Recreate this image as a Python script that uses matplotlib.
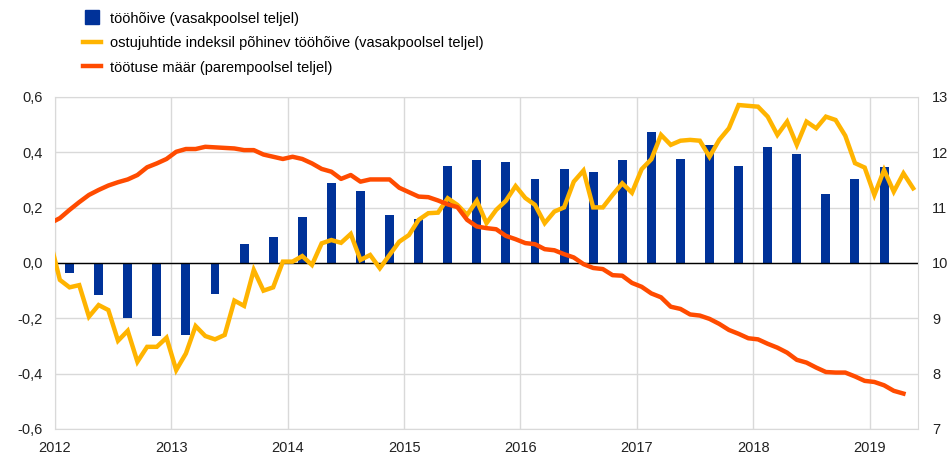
import numpy as np
import matplotlib.pyplot as plt
from matplotlib.lines import Line2D

plt.rcParams['font.family'] = ['Liberation Sans', 'DejaVu Sans']

BLUE = '#003299'
YELLOW = '#FFB400'
RED = '#FF4B00'
GRID = '#d9d9d9'

# quarterly employment growth (left axis), Q1 2012 .. Q1 2019
emp_quarters = ['2012Q1', '2012Q2', '2012Q3', '2012Q4', '2013Q1', '2013Q2', '2013Q3', '2013Q4',
                '2014Q1', '2014Q2', '2014Q3', '2014Q4', '2015Q1', '2015Q2', '2015Q3', '2015Q4',
                '2016Q1', '2016Q2', '2016Q3', '2016Q4', '2017Q1', '2017Q2', '2017Q3', '2017Q4',
                '2018Q1', '2018Q2', '2018Q3', '2018Q4', '2019Q1']
emp_values = [-0.035, -0.117, -0.198, -0.263, -0.26, -0.112, 0.069, 0.094,
              0.166, 0.288, 0.26, 0.174, 0.159, 0.35, 0.372, 0.364,
              0.304, 0.339, 0.328, 0.372, 0.473, 0.376, 0.426, 0.351,
              0.421, 0.393, 0.248, 0.303, 0.346]

# PMI-based employment (left axis), monthly from Dec 2011 to May 2019
pmi_start = '2011-12'
pmi_values = [0.08,
              -0.061, -0.088, -0.080, -0.194, -0.152, -0.170, -0.281, -0.245, -0.357, -0.303, -0.303, -0.270,
              -0.387, -0.327, -0.228, -0.264, -0.276, -0.260, -0.136, -0.155, -0.025, -0.100, -0.088, 0.005,
              0.005, 0.025, -0.007, 0.071, 0.083, 0.073, 0.105, 0.011, 0.029, -0.019, 0.029, 0.077,
              0.101, 0.156, 0.180, 0.182, 0.234, 0.210, 0.174, 0.225, 0.144, 0.192, 0.225, 0.278,
              0.235, 0.210, 0.144, 0.186, 0.201, 0.294, 0.334, 0.201, 0.201, 0.246, 0.288, 0.254,
              0.339, 0.375, 0.463, 0.427, 0.442, 0.445, 0.442, 0.384, 0.445, 0.487, 0.571, 0.568,
              0.565, 0.529, 0.463, 0.511, 0.427, 0.511, 0.487, 0.529, 0.517, 0.460, 0.361, 0.345,
              0.246, 0.336, 0.258, 0.324, 0.270]

# unemployment rate (right axis), monthly from Dec 2011 to Apr 2019
unemp_start = '2011-12'
unemp_values = [10.72,
                10.81, 10.96, 11.10, 11.23, 11.32, 11.40, 11.46, 11.51, 11.59, 11.73, 11.80, 11.88,
                12.01, 12.06, 12.06, 12.10, 12.09, 12.08, 12.07, 12.04, 12.04, 11.96, 11.92, 11.88,
                11.92, 11.88, 11.80, 11.70, 11.65, 11.52, 11.59, 11.47, 11.51, 11.51, 11.51, 11.36,
                11.28, 11.20, 11.19, 11.13, 11.06, 11.01, 10.78, 10.66, 10.63, 10.61, 10.49, 10.43,
                10.36, 10.34, 10.25, 10.23, 10.16, 10.10, 9.98, 9.91, 9.89, 9.78, 9.77, 9.64,
                9.57, 9.45, 9.38, 9.21, 9.17, 9.07, 9.05, 8.99, 8.90, 8.79, 8.72, 8.64,
                8.62, 8.54, 8.47, 8.38, 8.25, 8.20, 8.11, 8.03, 8.02, 8.02, 7.95, 7.87,
                7.85, 7.79, 7.69, 7.64]

years = list(range(2012, 2020))

legend_labels = ['tööhõive (vasakpoolsel teljel)',
                 'ostujuhtide indeksil põhinev tööhõive (vasakpoolsel teljel)',
                 'töötuse määr (parempoolsel teljel)']


def month_pos(start, n):
    y, m = map(int, start.split('-'))
    first = y + (m - 1) / 12
    return first + (np.arange(n) + 0.5) / 12


def quarter_pos(labels):
    return np.array([int(q[:4]) + (3 * (int(q[5]) - 1) + 1.5) / 12 for q in labels])


fig = plt.figure(figsize=(9.53, 4.55), dpi=100)
ax = fig.add_axes([55 / 953, 1 - 429 / 455, 863 / 953, 332 / 455])

ax.bar(quarter_pos(emp_quarters), emp_values, width=0.077, color=BLUE, zorder=2)
ax.plot(month_pos(pmi_start, len(pmi_values)), pmi_values, color=YELLOW, lw=3.2,
        solid_joinstyle='miter', zorder=3)
ax.axhline(0, color='black', lw=1, zorder=2.5)

ax.set_xlim(2012, 2019 + 5 / 12)
ax.set_ylim(-0.6, 0.6)
yt = np.arange(-0.6, 0.61, 0.2)
ax.set_yticks(yt)
ax.set_yticklabels([f'{v:.1f}'.replace('.', ',').replace('-0,0', '0,0') for v in yt])
ax.set_xticks(years)
ax.set_xticklabels([str(y) for y in years])
ax.grid(True, color=GRID, lw=1, zorder=0)
ax.set_axisbelow(True)
ax.tick_params(length=0, labelsize=10.5, colors='#222222')
ax.tick_params(axis='y', pad=9)
ax.tick_params(axis='x', pad=9)
for s in ax.spines.values():
    s.set_color(GRID)

ax2 = ax.twinx()
ax2.plot(month_pos(unemp_start, len(unemp_values)), unemp_values, color=RED, lw=3.2, zorder=3)
ax2.set_ylim(7, 13)
ax2.set_yticks(range(7, 14))
ax2.tick_params(length=0, labelsize=10.5, colors='#222222', pad=10)
for s in ax2.spines.values():
    s.set_visible(False)

handles = [Line2D([], [], color=BLUE, marker='s', markersize=9.5, linestyle='none'),
           Line2D([], [], color=YELLOW, lw=3.2),
           Line2D([], [], color=RED, lw=3.2)]
fig.legend(handles, legend_labels, loc='upper left', bbox_to_anchor=(74 / 953, 0.995),
           frameon=False, fontsize=10.5, handlelength=1.2, handleheight=0.9,
           handletextpad=0.65, labelspacing=0.72, borderaxespad=0.25)

fig.savefig('out.png', dpi=100)
